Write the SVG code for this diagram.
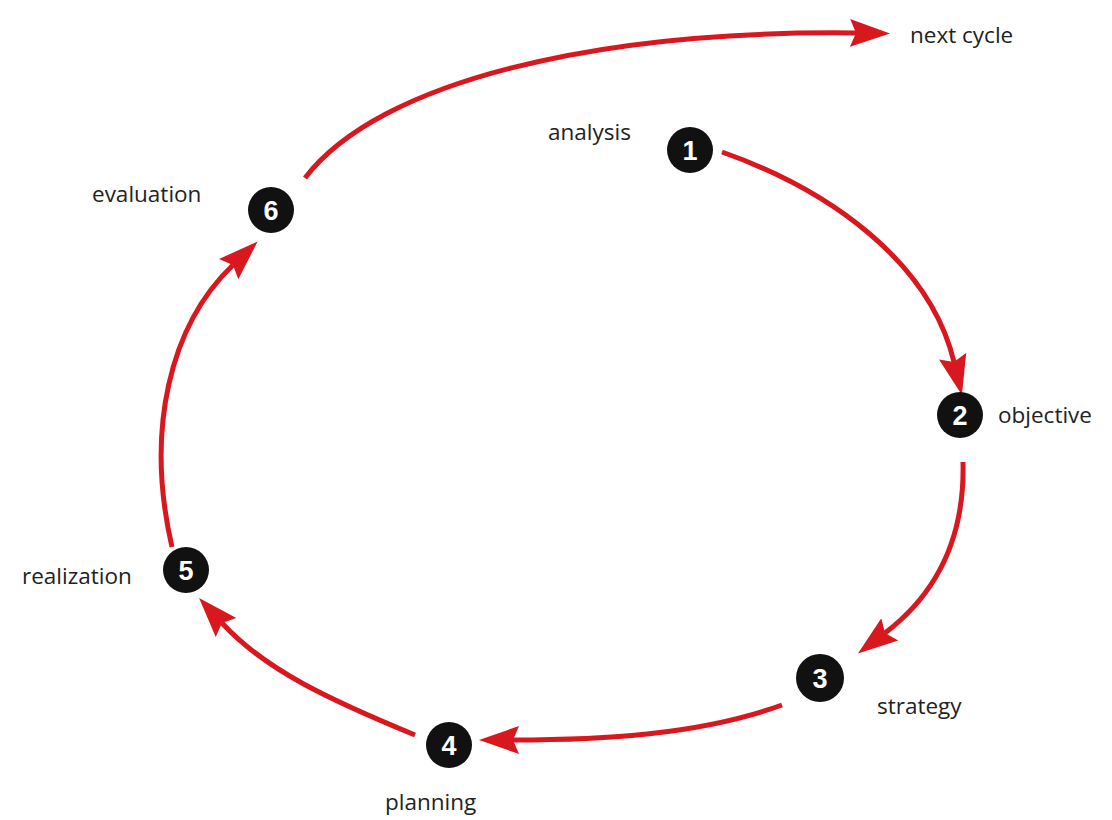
<svg xmlns="http://www.w3.org/2000/svg" width="1112" height="820" viewBox="0 0 1112 820">
<defs>
<style>
.lbl{font-family:"Open Sans","Liberation Sans",sans-serif;font-size:22.5px;fill:#222;}
.num{font-family:"Liberation Sans",sans-serif;font-size:27px;font-weight:bold;fill:#fff;text-anchor:middle;}
.dot{fill:#111;}
.arr{fill:none;stroke:#d8171e;stroke-width:5;}
</style>
<marker id="ah" markerUnits="userSpaceOnUse" markerWidth="42" markerHeight="30" refX="6" refY="14" orient="auto" viewBox="0 0 42 28">
<path d="M0,0 L40,14 L0,28 L6,14 z" fill="#d8171e"/>
</marker>
</defs>
<rect width="1112" height="820" fill="#fff"/>
<g id="connectors">
<path class="arr" marker-end="url(#ah)" d="M722 152 C830 190 930 262 954 362"/>
<path class="arr" marker-end="url(#ah)" d="M963 462 C965 540 935 595 885 633"/>
<path class="arr" marker-end="url(#ah)" d="M782 705 C700 735 600 740 513 740"/>
<path class="arr" marker-end="url(#ah)" d="M415 735 C330 700 265 670 222 623"/>
<path class="arr" marker-end="url(#ah)" d="M172 547 C145 430 170 325 233 265"/>
<path class="arr" marker-end="url(#ah)" d="M305 178 C380 80 600 30 856 33"/>
</g>
<g id="n1"><circle class="dot" cx="690" cy="150" r="23"/><text class="num" x="690" y="160">1</text><text class="lbl" x="548" y="140">analysis</text></g>
<g id="n2"><circle class="dot" cx="960" cy="415" r="23"/><text class="num" x="960" y="425">2</text><text class="lbl" x="998" y="423">objective</text></g>
<g id="n3"><circle class="dot" cx="820" cy="678" r="24"/><text class="num" x="820" y="688">3</text><text class="lbl" x="877" y="714">strategy</text></g>
<g id="n4"><circle class="dot" cx="449" cy="745" r="23"/><text class="num" x="449" y="755">4</text><text class="lbl" x="385" y="810">planning</text></g>
<g id="n5"><circle class="dot" cx="186" cy="570" r="23"/><text class="num" x="186" y="580">5</text><text class="lbl" x="22" y="584">realization</text></g>
<g id="n6"><circle class="dot" cx="271" cy="210" r="23"/><text class="num" x="271" y="220">6</text><text class="lbl" x="92" y="202">evaluation</text></g>
<g id="next"><text class="lbl" x="910" y="43">next cycle</text></g>
</svg>
